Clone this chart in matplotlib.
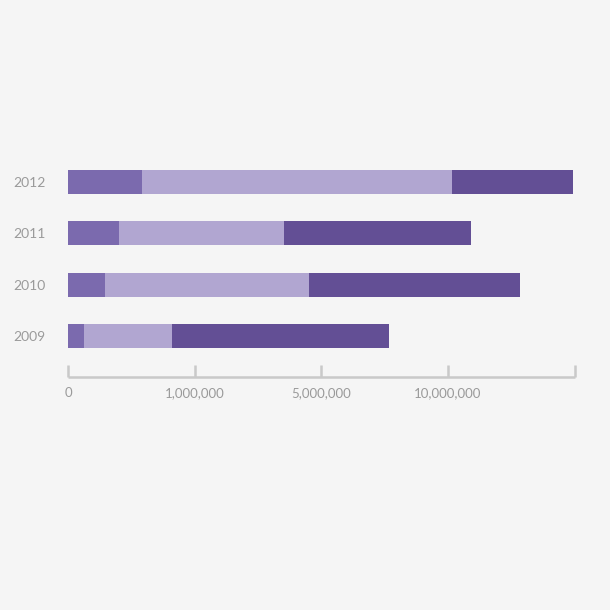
import matplotlib.pyplot as plt
import numpy as np

# Data (segment lengths in axis units; the axis labels are evenly spaced)
years = ["2009", "2010", "2011", "2012"]
part_a = [0.124, 0.292, 0.40, 0.584]
part_b = [0.694, 1.607, 1.305, 2.447]
part_c = [1.713, 1.668, 1.475, 0.96]
tick_pos = [0, 1, 2, 3, 4]
tick_labels = ["0", "1,000,000", "5,000,000", "10,000,000", ""]

colors = ["#7b6aae", "#b1a6d1", "#634f95"]
bg = "#f5f5f5"
grey = "#c9c9c9"
text_grey = "#9a9a9a"

fig = plt.figure(figsize=(6.1, 6.1), dpi=100, facecolor=bg)
ax = fig.add_axes([0.1115, 0.382, 0.8305, 0.372])
ax.set_facecolor(bg)

y = np.arange(len(years))
h = 0.47
left = np.zeros(len(years))
for vals, c in zip([part_a, part_b, part_c], colors):
    ax.barh(y, vals, left=left, height=h, color=c, edgecolor="none")
    left += np.array(vals)

ax.set_xlim(0, 4)
ax.set_ylim(-0.8, 3.62)

for s in ["top", "right", "left"]:
    ax.spines[s].set_visible(False)
ax.spines["bottom"].set_color(grey)
ax.spines["bottom"].set_linewidth(1.8)
ax.spines["bottom"].set_capstyle("butt")

ax.set_xticks(tick_pos)
ax.set_xticklabels(tick_labels, fontfamily="Lato", fontsize=9.5, color=text_grey)
ax.tick_params(axis="x", direction="in", length=9, width=1.8, color=grey, pad=7)

ax.set_yticks(y)
ax.set_yticklabels(years, fontfamily="Lato", fontsize=10, color=text_grey)
ax.tick_params(axis="y", length=0, pad=16)

fig.savefig("out.png", dpi=100, facecolor=bg)
